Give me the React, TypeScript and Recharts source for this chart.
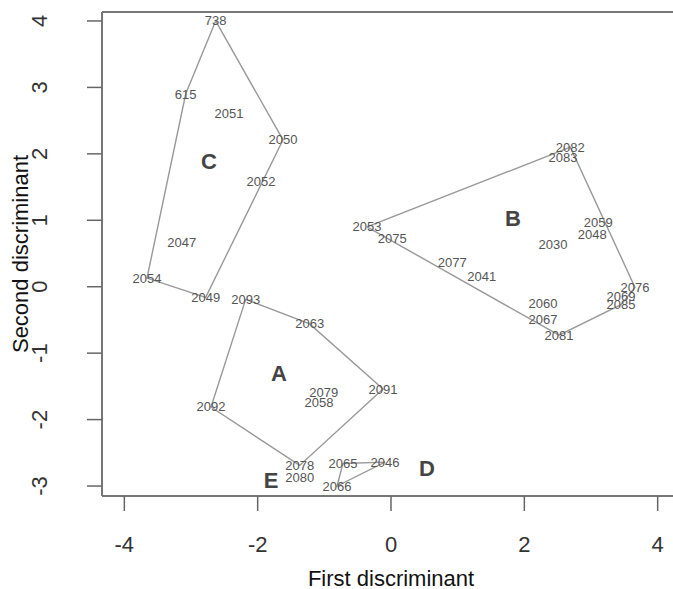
import React from "react";
import { ScatterChart, Scatter, XAxis, YAxis, ReferenceLine } from "recharts";

// Group A
const aLabels = ["2093", "2063", "2091", "2092", "2078", "2079", "2058"];
const aX = [-2.18, -1.22, -0.12, -2.7, -1.37, -1.01, -1.08];
const aY = [-0.19, -0.56, -1.54, -1.81, -2.69, -1.59, -1.75];

// Group B
const bLabels = ["2082", "2083", "2053", "2075", "2077", "2041", "2030", "2059", "2048", "2076", "2069", "2085", "2060", "2067", "2081"];
const bX = [2.69, 2.58, -0.36, 0.02, 0.92, 1.36, 2.43, 3.11, 3.02, 3.66, 3.45, 3.45, 2.28, 2.28, 2.52];
const bY = [2.1, 1.95, 0.9, 0.72, 0.36, 0.16, 0.63, 0.96, 0.79, -0.01, -0.14, -0.27, -0.25, -0.49, -0.73];

// Group C
const cLabels = ["738", "615", "2051", "2050", "2052", "2047", "2054", "2049"];
const cX = [-2.63, -3.08, -2.43, -1.62, -1.95, -3.14, -3.66, -2.78];
const cY = [4.0, 2.9, 2.6, 2.21, 1.58, 0.66, 0.13, -0.16];

// Group D
const dLabels = ["2065", "2046", "2066"];
const dX = [-0.72, -0.09, -0.81];
const dY = [-2.66, -2.64, -3.0];

// Group E
const eLabels = ["2080"];
const eX = [-1.37];
const eY = [-2.87];

// Hull vertex order per group
const hullA = ["2093", "2063", "2091", "2078", "2092", "2093"];
const hullB = ["2053", "2082", "2076", "2085", "2081", "2053"];
const hullC = ["738", "2050", "2049", "2054", "615", "738"];
const hullD = ["2065", "2046", "2066", "2065"];

// Group centre letters
const groupNames = ["A", "B", "C", "D", "E"];
const groupX = [-1.68, 1.83, -2.73, 0.54, -1.8];
const groupY = [-1.31, 1.03, 1.89, -2.73, -2.91];

const xTicks = [-4, -2, 0, 2, 4];
const yTicks = [-3, -2, -1, 0, 1, 2, 3, 4];
const xDomain = [-4.335, 4.335];
const yDomain = [-3.15, 4.135];

const build = (labels: string[], xs: number[], ys: number[]) =>
  labels.map((label, i) => ({ label, x: xs[i], y: ys[i] }));

const pointsA = build(aLabels, aX, aY);
const pointsB = build(bLabels, bX, bY);
const pointsC = build(cLabels, cX, cY);
const pointsD = build(dLabels, dX, dY);
const pointsE = build(eLabels, eX, eY);
const allPoints = [...pointsA, ...pointsB, ...pointsC, ...pointsD, ...pointsE];
const groupPoints = build(groupNames, groupX, groupY);

const hullOf = (order: string[], pts: { label: string; x: number; y: number }[]) =>
  order.map((l) => pts.find((p) => p.label === l)!);

const hulls = [hullOf(hullA, pointsA), hullOf(hullB, pointsB), hullOf(hullC, pointsC), hullOf(hullD, pointsD)];

const FONT = "'Liberation Sans', Arial, Helvetica, sans-serif";

const PointLabel = (p: any) => (
  <text x={p.cx} y={p.cy} textAnchor="middle" dominantBaseline="central" fontFamily={FONT} fontSize={13} fill="#555">
    {p.payload.label}
  </text>
);

const GroupLabel = (p: any) => (
  <text x={p.cx} y={p.cy} textAnchor="middle" dominantBaseline="central" fontFamily={FONT} fontSize={22} fontWeight="bold" fill="#444">
    {p.payload.label}
  </text>
);

const XTick = (p: any) => (
  <text x={p.x} y={p.y} dy={31} textAnchor="middle" dominantBaseline="central" fontFamily={FONT} fontSize={22} fill="#333">
    {p.payload.value}
  </text>
);

const YTick = (p: any) => {
  const cx = p.x - 45;
  return (
    <text x={cx} y={p.y} textAnchor="middle" dominantBaseline="central" fontFamily={FONT} fontSize={22} fill="#333" transform={`rotate(-90, ${cx}, ${p.y})`}>
      {p.payload.value}
    </text>
  );
};

const XTitle = (p: any) => {
  const vb = p.viewBox;
  return (
    <text x={vb.x + vb.width / 2} y={578} textAnchor="middle" dominantBaseline="central" fontFamily={FONT} fontSize={22} fill="#111">
      First discriminant
    </text>
  );
};

const YTitle = (p: any) => {
  const vb = p.viewBox;
  const cy = vb.y + vb.height / 2;
  return (
    <text x={20} y={cy} textAnchor="middle" dominantBaseline="central" fontFamily={FONT} fontSize={22} fill="#111" transform={`rotate(-90, 20, ${cy})`}>
      Second discriminant
    </text>
  );
};

const Empty = () => <g />;
const boxStroke = { stroke: "#777", strokeWidth: 2 };

export default function App() {
  return (
    <div style={{ position: "absolute", left: 0, top: 0, width: 673, height: 589, overflow: "hidden", background: "#fff" }}>
      <ScatterChart width={673} height={589} margin={{ top: 12, right: -7, left: 0, bottom: 0 }}>
        <XAxis
          dataKey="x"
          type="number"
          domain={xDomain}
          ticks={xTicks}
          allowDataOverflow
          axisLine={false}
          tickSize={15}
          tickLine={{ stroke: "#666", strokeWidth: 1.5 }}
          tick={<XTick />}
          height={93}
          label={<XTitle />}
        />
        <YAxis
          dataKey="y"
          type="number"
          domain={yDomain}
          ticks={yTicks}
          allowDataOverflow
          axisLine={false}
          tickSize={15}
          tickLine={{ stroke: "#666", strokeWidth: 1.5 }}
          tick={<YTick />}
          width={102}
          label={<YTitle />}
        />
        <ReferenceLine y={yDomain[1]} {...boxStroke} ifOverflow="visible" />
        <ReferenceLine y={yDomain[0]} {...boxStroke} ifOverflow="visible" />
        <ReferenceLine x={xDomain[0]} {...boxStroke} ifOverflow="visible" />
        {hulls.map((h, i) => (
          <Scatter
            key={"hull" + i}
            data={h}
            line={{ stroke: "#999", strokeWidth: 1.4 }}
            lineType="joint"
            shape={<Empty />}
            isAnimationActive={false}
          />
        ))}
        <Scatter data={allPoints} shape={<PointLabel />} isAnimationActive={false} />
        <Scatter data={groupPoints} shape={<GroupLabel />} isAnimationActive={false} />
      </ScatterChart>
    </div>
  );
}
